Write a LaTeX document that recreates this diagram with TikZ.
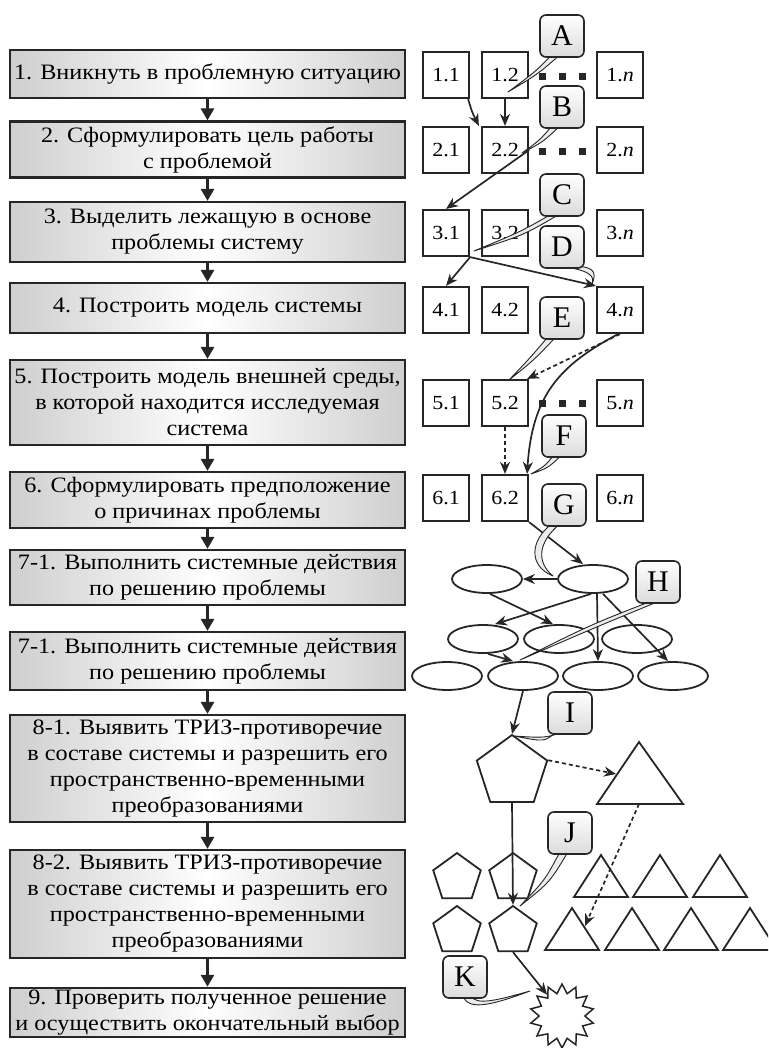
\documentclass[tikz,border=0pt]{standalone}
\usepackage{fontspec}
\setmainfont{Liberation Serif}
\newfontfamily\serfont[FakeStretch=1.1]{Liberation Serif}
\newfontfamily\letfont{Liberation Serif}
\usetikzlibrary{arrows.meta,shapes.geometric,calc}
\pgfdeclarelayer{fg}
\pgfsetlayers{main,fg}
\begin{document}
\begin{tikzpicture}[x=1pt,y=-1pt,
  lbox/.style={draw=black!85, line width=2.2, left color=gray!38, right color=gray!38, middle color=white, minimum width=395, align=center, inner sep=2, font=\serfont\fontsize{22}{26}\selectfont},
  larr/.style={line width=2.8, black!85, -{Triangle[length=12,width=13]}},
  gbox/.style={draw=black!85, line width=2.2, fill=white, minimum size=46, inner sep=0, font=\serfont\fontsize{20}{22}\selectfont},
  dotsq/.style={fill=black!85, minimum size=7, inner sep=0},
  call/.style={draw=black!85, line width=1.6, rounded corners=6, top color=white, bottom color=gray!28, minimum width=44, minimum height=42, inner sep=0, font=\letfont\fontsize{30}{30}\selectfont},
  tail/.style={draw=black!85, line width=0.9, fill=gray!15, line join=round},
  arr/.style={line width=1.7, black!85, -{Stealth[length=12,width=10]}},
  darr/.style={arr, dash pattern=on 4pt off 3pt},
  ell/.style={draw=black!85, line width=1.8, ellipse, minimum width=70, minimum height=28, inner sep=0},
  pent/.style={draw=black!85, line width=1.8, regular polygon, regular polygon sides=5, inner sep=0},
  tri/.style={draw=black!85, line width=1.8, line join=miter}
]
\useasboundingbox (0,0) rectangle (768,1048);
\clip (0,0) rectangle (768,1048);

% ---------- left column ----------
\node[lbox, minimum height=48] (b1) at (207.5,74) {1. Вникнуть в проблемную ситуацию};
\node[lbox, minimum height=56] (b2) at (207.5,149.5) {2. Сформулировать цель работы\\с проблемой};
\node[lbox, minimum height=60] (b3) at (207.5,232) {3. Выделить лежащую в основе\\проблемы систему};
\node[lbox, minimum height=50] (b4) at (207.5,308) {4. Построить модель системы};
\node[lbox, minimum height=85] (b5) at (207.5,402.5) {5. Построить модель внешней среды,\\в которой находится исследуемая\\система};
\node[lbox, minimum height=56] (b6) at (207.5,500) {6. Сформулировать предположение\\о причинах проблемы};
\node[lbox, minimum height=55] (b7a) at (207.5,577.5) {7-1. Выполнить системные действия\\по решению проблемы};
\node[lbox, minimum height=58] (b7b) at (207.5,661) {7-1. Выполнить системные действия\\по решению проблемы};
\node[lbox, minimum height=107] (b8a) at (207.5,768.5) {8-1. Выявить ТРИЗ-противоречие\\в составе системы и разрешить его\\пространственно-временными\\преобразованиями};
\node[lbox, minimum height=108] (b8b) at (207.5,904) {8-2. Выявить ТРИЗ-противоречие\\в составе системы и разрешить его\\пространственно-временными\\преобразованиями};
\node[lbox, minimum height=49] (b9) at (207.5,1012.5) {9. Проверить полученное решение\\и осуществить окончательный выбор};

\foreach \u/\v in {b1/b2,b2/b3,b3/b4,b4/b5,b5/b6,b6/b7a,b7a/b7b,b7b/b8a,b8a/b8b,b8b/b9}
  \draw[larr] (\u.south) -- (\v.north);

% ---------- grid of boxes ----------
\foreach \r/\yy in {1/75,2/150,3/233,4/310,5/403,6/498}{
  \node[gbox] (g\r1) at (446,\yy) {\r.1};
  \node[gbox] (g\r2) at (505,\yy) {\r.2};
  \node[gbox] (g\r n) at (620,\yy) {\r.\textit{n}};
}
\foreach \yy/\nm in {77/d1,152/d2,403/d5}{
  \node[dotsq] (\nm a) at (542,\yy) {};
  \node[dotsq] (\nm b) at (562,\yy) {};
  \node[dotsq] (\nm c) at (582,\yy) {};
}

% ---------- ellipses ----------
\node[ell] (e11) at (487,579) {};
\node[ell] (e12) at (593,579) {};
\node[ell] (e21) at (483,639) {};
\node[ell] (e22) at (559,639) {};
\node[ell] (e23) at (637,639) {};
\node[ell] (e31) at (447,676) {};
\node[ell] (e32) at (523,676) {};
\node[ell] (e33) at (598,676) {};
\node[ell] (e34) at (673,676) {};

% ---------- pentagons, triangles, star ----------
\node[pent, minimum size=74] (P) at (512,772) {};
\node[pent, minimum size=50] (sp11) at (457,878) {};
\node[pent, minimum size=50] (sp12) at (513,878) {};
\node[pent, minimum size=50] (sp21) at (457,931) {};
\node[pent, minimum size=50] (sp22) at (513,931) {};
\draw[tri] (639,742) coordinate (Ta) -- (683,804) coordinate (Tr) -- (597,804) coordinate (Tl) -- cycle;
\coordinate (Tb) at (639,804);
\coordinate (Tside) at (616,774);
\foreach \xx/\yy/\nm in {601/855/a1,660/855/a2,720/855/a3,572/908/b1,632/908/b2,691/908/b3,750/908/b4}
  \draw[tri] (\xx,\yy) coordinate (st\nm) -- ++(27,42) -- ++(-54,0) -- cycle;
\coordinate (stb1side) at (585,926);
\node[draw=black!85, line width=1.5, star, star points=14, star point ratio=1.4, minimum size=64, inner sep=0] (S) at (562,1016) {};

% ---------- connectors ----------
\draw[arr] (g12.south) -- (g22.north);
\draw[arr] ([xshift=-2]g11.south east) .. controls (472,112) .. ([xshift=-2]g22.north west);
\draw[arr] (g22.east) -- (g31.north);
\draw[arr] (g31.south east) -- (g41.north);
\draw[arr] (g31.south east) -- (g4n.north west);
\draw[darr] (g4n.south) -- ([xshift=-2]g52.north east);
\draw[arr] ([xshift=-2]g4n.south) .. controls (560,365) and (532,395) .. ([xshift=-2]g62.north east);
\draw[darr] (g52.south) -- (g62.north);
\draw[arr] (g62.south east) -- ([xshift=-10]e12.north);
\draw[arr] (e12.west) -- (e11.east);
\draw[arr] ([xshift=3]e11.south) -- ([xshift=-6]e22.north);
\draw[arr] ([xshift=-2]e12.south) -- ([xshift=12]e21.north);
\draw[arr] ([xshift=4]e12.south) -- (e33.north);
\draw[arr] ([xshift=10]e12.south) -- ([xshift=-5]e34.north);
\draw[arr] ([xshift=5]e21.south) -- ([xshift=-10]e32.north);
\draw[arr] (e32.south) -- (P.corner 1);
\draw[darr] (P.corner 5) -- (Tside);
\draw[arr] (P.south) -- (sp22.corner 1);
\draw[darr] (Tb) -- (stb1side);
\draw[arr] (sp22.south) -- (S.125);

% ---------- callouts ----------
\begin{pgfonlayer}{fg}
\node[call] (A) at (562,36) {A};
\node[call] (B) at (562,107) {B};
\node[call] (C) at (562,195) {C};
\node[call] (D) at (562,247) {D};
\node[call] (E) at (562,318) {E};
\node[call] (F) at (564,436) {F};
\node[call] (G) at (564,505) {G};
\node[call] (H) at (658,582) {H};
\node[call] (I) at (570,713) {I};
\node[call] (J) at (570,833) {J};
\node[call] (K) at (465,977) {K};
\end{pgfonlayer}

% ---------- callout tails ----------
\coordinate (tA) at (508,92);
\coordinate (tB) at (522,153);
\coordinate (tC) at (474,251);
\coordinate (tD) at (592,284);
\coordinate (tE) at (509,380);
\coordinate (tF) at (531,474);
\coordinate (tG) at (553,576);
\coordinate (tH) at (520,660);
\coordinate (tI) at (514,736);
\coordinate (tJ) at (520,906);
\coordinate (tK) at (530,991);
\draw[tail] ([xshift=-10,yshift=3]A.south) .. controls (535,72) .. (tA) .. controls (538,74) .. ([xshift=-2,yshift=3]A.south) -- cycle;
\draw[tail] ([xshift=-10,yshift=3]B.south) .. controls (540,140) .. (tB) .. controls (543,142) .. ([xshift=-2,yshift=3]B.south) -- cycle;
\draw[tail] ([xshift=-10,yshift=3]C.south) .. controls (520,232) .. (tC) .. controls (524,235) .. ([xshift=-2,yshift=3]C.south) -- cycle;
\draw[tail] ([xshift=-4,yshift=3]D.south) .. controls (590,270) and (595,276) .. (tD) .. controls (598,270) and (592,266) .. ([xshift=6,yshift=3]D.south) -- cycle;
\draw[tail] ([xshift=-14,yshift=3]E.south) .. controls (530,358) .. (tE) .. controls (534,360) .. ([xshift=-6,yshift=3]E.south) -- cycle;
\draw[tail] ([xshift=-10,yshift=3]F.south) .. controls (545,466) .. (tF) .. controls (548,468) .. ([xshift=-2,yshift=3]F.south) -- cycle;
\draw[tail] ([xshift=-12,yshift=3]G.south) .. controls (530,540) and (528,566) .. (tG) .. controls (536,562) and (538,542) .. ([xshift=-4,yshift=3]G.south) -- cycle;
\draw[tail] ([xshift=-6,yshift=3]H.south) .. controls (590,625) .. (tH) .. controls (594,628) .. ([xshift=2,yshift=3]H.south) -- cycle;
\draw[tail] ([xshift=-14,yshift=3]I.south) .. controls (545,742) .. (tI) .. controls (545,738) .. ([xshift=-6,yshift=3]I.south) -- cycle;
\draw[tail] ([xshift=-10,yshift=3]J.south) .. controls (545,880) .. (tJ) .. controls (550,882) .. ([xshift=-2,yshift=3]J.south) -- cycle;
\draw[tail] ([xshift=-2,yshift=3]K.south) .. controls (468,1012) and (495,1004) .. (tK) .. controls (498,1000) and (476,1006) .. ([xshift=6,yshift=3]K.south) -- cycle;
\end{tikzpicture}
\end{document}
